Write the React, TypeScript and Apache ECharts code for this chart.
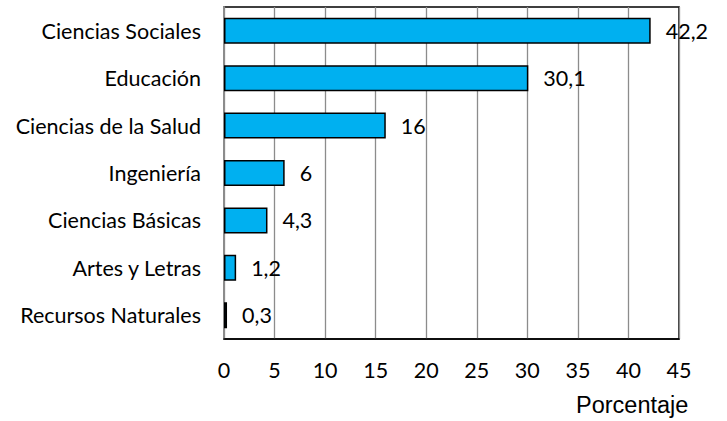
import React, { useEffect, useRef } from "react";
import * as echarts from "echarts";

const categories = [
  "Recursos Naturales",
  "Artes y Letras",
  "Ciencias Básicas",
  "Ingeniería",
  "Ciencias de la Salud",
  "Educación",
  "Ciencias Sociales",
];
const values = [0.3, 1.2, 4.3, 6, 16, 30.1, 42.2];
const axisTitle = "Porcentaje";

const FONT = "Lato, 'Open Sans', sans-serif";

export default function App() {
  const ref = useRef<HTMLDivElement>(null);
  useEffect(() => {
    if (!ref.current) return;
    const chart = echarts.init(ref.current, null, { renderer: "svg" });
    chart.setOption({
      animation: false,
      backgroundColor: "#ffffff",
      grid: {
        left: 224,
        right: 48,
        top: 7,
        bottom: 82,
        show: true,
        borderColor: "#000000",
        borderWidth: 1.5,
        backgroundColor: "transparent",
      },
      xAxis: {
        type: "value",
        min: 0,
        max: 45,
        interval: 5,
        axisLine: { show: true, lineStyle: { color: "#000000", width: 1.5 } },
        axisTick: { show: false },
        splitLine: { show: true, lineStyle: { color: "#8c8c8c", width: 1.3 } },
        axisLabel: {
          color: "#000000",
          fontFamily: FONT,
          fontSize: 21.5,
          margin: 20,
        },
      },
      yAxis: {
        type: "category",
        data: categories,
        axisLine: { show: true, lineStyle: { color: "#8c8c8c", width: 2 } },
        axisTick: { show: false },
        axisLabel: {
          color: "#000000",
          fontFamily: FONT,
          fontSize: 21.5,
          margin: 23,
        },
      },
      graphic: [
        {
          type: "text",
          left: 576,
          top: 393,
          style: {
            text: axisTitle,
            fill: "#000000",
            font: "23.5px 'Liberation Sans', Arial, sans-serif",
          },
        },
      ],
      series: [
        {
          type: "bar",
          data: values,
          barWidth: 26,
          itemStyle: {
            color: "#00B0F0",
            borderColor: "#000000",
            borderWidth: 1.5,
          },
          label: {
            show: true,
            position: "right",
            distance: 15,
            color: "#000000",
            fontFamily: FONT,
            fontSize: 21.5,
            formatter: (p: any) => String(p.value).replace(".", ","),
          },
        },
      ],
    });
    return () => chart.dispose();
  }, []);
  return <div ref={ref} style={{ width: 727, height: 421, position: "absolute", left: 0, top: 0 }} />;
}
